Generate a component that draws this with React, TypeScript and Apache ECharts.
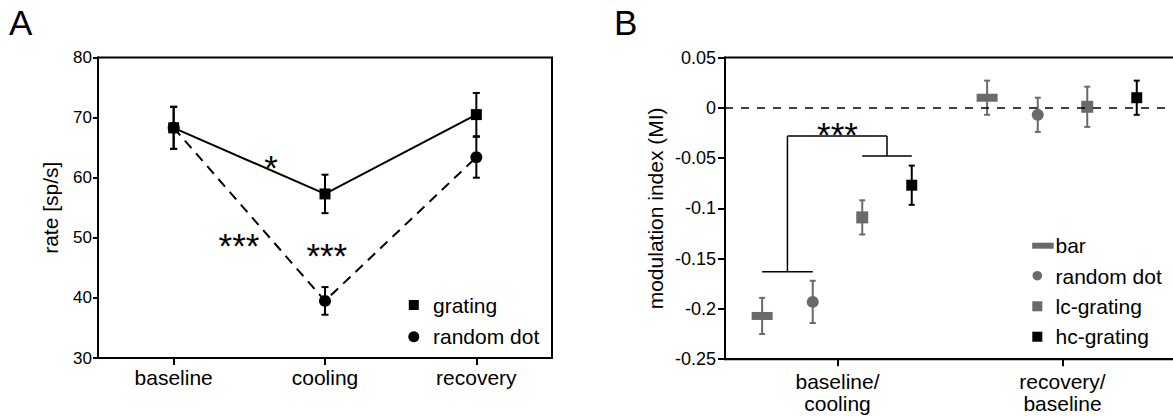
import React, { useEffect, useRef } from "react";
import * as echarts from "echarts";

// ---------- Panel A data ----------
const categoriesA = ["baseline", "cooling", "recovery"];
const gratingMean = [68.3, 57.3, 70.5];
const gratingErr = [3.5, 3.2, 3.6];
const randomDotMean = [68.3, 39.5, 63.4];
const randomDotErr = [3.5, 2.3, 3.4];
const yTicksA = { min: 30, max: 80, interval: 10 };
// significance marks: [x position (category units), y value, text]
const annotX_A = [1.143, 0.932, 1.512];
const annotY_A = [62.8, 49.95, 48.3];
const annotText_A = ["*", "***", "***"];

// ---------- Panel B data ----------
const categoriesB = ["baseline/\ncooling", "recovery/\nbaseline"];
const barMI = [-0.207, 0.01];
const barErr = [0.018, 0.017];
const randomDotMI = [-0.193, -0.007];
const randomDotMIErr = [0.021, 0.017];
const lcGratingMI = [-0.109, 0.001];
const lcGratingErr = [0.017, 0.02];
const hcGratingMI = [-0.077, 0.01];
const hcGratingErr = [0.0195, 0.017];
const yTicksB = { min: -0.25, max: 0.05, interval: 0.05 };
// bracket levels (MI values)
const bracketLowLeft = -0.163;
const bracketTop = -0.028;
const bracketLowRight = -0.048;
const annotY_B = -0.0195;
const annotText_B = "***";

const FONT = "'Liberation Sans', Arial, Helvetica, sans-serif";
const GRAY = "#6a6a6a";
const BLACK = "#000";
// within-group offsets (category units) for the 4 conditions
const OFFS = [-0.335, -0.11, 0.11, 0.33];

function errorBarSeries(name: string, xi: number, yi: number, pts: number[][], color: string, lw: number, cap: number) {
  return {
    type: "custom",
    name,
    xAxisIndex: xi,
    yAxisIndex: yi,
    z: 1,
    silent: true,
    encode: { x: 0, y: 1 },
    data: pts,
    renderItem: (params: any, api: any) => {
      const x = api.value(0);
      const y = api.value(1);
      const e = api.value(2);
      const t = api.coord([x, y + e]);
      const b = api.coord([x, y - e]);
      const st = { stroke: color, lineWidth: lw };
      return {
        type: "group",
        children: [
          { type: "line", shape: { x1: t[0], y1: t[1], x2: b[0], y2: b[1] }, style: st },
          { type: "line", shape: { x1: t[0] - cap, y1: t[1], x2: t[0] + cap, y2: t[1] }, style: st },
          { type: "line", shape: { x1: b[0] - cap, y1: b[1], x2: b[0] + cap, y2: b[1] }, style: st },
        ],
      };
    },
  };
}

function textSeries(xi: number, yi: number, pts: number[][], texts: string[]) {
  return {
    type: "custom",
    xAxisIndex: xi,
    yAxisIndex: yi,
    silent: true,
    z: 5,
    encode: { x: 0, y: 1 },
    data: pts,
    renderItem: (params: any, api: any) => {
      const p = api.coord([api.value(0), api.value(1)]);
      return {
        type: "text",
        x: p[0],
        y: p[1] + 7,
        style: {
          text: texts[params.dataIndex],
          fontSize: 35,
          fontFamily: FONT,
          fill: BLACK,
          align: "center",
          verticalAlign: "middle",
        },
      };
    },
  };
}

export default function App() {
  const ref = useRef<HTMLDivElement>(null);
  useEffect(() => {
    if (!ref.current) return;
    const chart = echarts.init(ref.current, null, { renderer: "svg" });

    const xA = categoriesA.map((_, i) => i + 0.5);
    const xB = categoriesB.map((_, i) => i + 0.5);
    const bx = (g: number, k: number) => xB[g] + OFFS[k];

    const bracketSegs = [
      [bx(0, 0), bracketLowLeft, bx(0, 1), bracketLowLeft],
      [(bx(0, 0) + bx(0, 1)) / 2, bracketLowLeft, (bx(0, 0) + bx(0, 1)) / 2, bracketTop],
      [(bx(0, 0) + bx(0, 1)) / 2, bracketTop, (bx(0, 2) + bx(0, 3)) / 2, bracketTop],
      [(bx(0, 2) + bx(0, 3)) / 2, bracketTop, (bx(0, 2) + bx(0, 3)) / 2, bracketLowRight],
      [bx(0, 2), bracketLowRight, bx(0, 3), bracketLowRight],
    ];

    const axisLineStyle = { onZero: false, lineStyle: { color: BLACK, width: 2 } };
    const labelStyle = (fs: number, margin: number) => ({
      color: BLACK,
      fontSize: fs,
      fontFamily: FONT,
      margin,
    });

    const option: any = {
      animation: false,
      backgroundColor: "#fff",
      textStyle: { fontFamily: FONT },
      grid: [
        { left: 98, top: 57.5, width: 454, height: 300.5, show: true, borderColor: BLACK, borderWidth: 2, backgroundColor: "transparent", containLabel: false, outerBoundsMode: "none" },
        { left: 725, top: 57.5, width: 450, height: 301.7, show: true, borderColor: BLACK, borderWidth: 2, backgroundColor: "transparent", containLabel: false, outerBoundsMode: "none" },
      ],
      xAxis: [
        {
          type: "value", gridIndex: 0, min: 0, max: 3,
          axisLine: axisLineStyle,
          axisTick: { show: true, length: 7, inside: false, lineStyle: { color: BLACK, width: 2 }, customValues: xA },
          axisLabel: { ...labelStyle(21, 9), customValues: xA, formatter: (v: number) => categoriesA[Math.round(v - 0.5)] ?? "" },
          splitLine: { show: false },
        },
        {
          type: "value", gridIndex: 1, min: 0, max: 2,
          axisLine: axisLineStyle,
          axisTick: { show: true, length: 7, inside: false, lineStyle: { color: BLACK, width: 2 }, customValues: xB },
          axisLabel: { ...labelStyle(21, 11), lineHeight: 22, customValues: xB, formatter: (v: number) => categoriesB[Math.round(v - 0.5)] ?? "" },
          splitLine: { show: false },
        },
      ],
      yAxis: [
        {
          type: "value", gridIndex: 0, min: yTicksA.min, max: yTicksA.max, interval: yTicksA.interval,
          name: "rate [sp/s]", nameLocation: "middle", nameGap: 37, nameRotate: 90, nameMoveOverlap: false,
          nameTextStyle: { color: BLACK, fontSize: 21, fontFamily: FONT },
          axisLine: { show: true, ...axisLineStyle },
          axisTick: { show: true, length: 5, lineStyle: { color: BLACK, width: 2 } },
          axisLabel: labelStyle(17, 6),
          splitLine: { show: false },
        },
        {
          type: "value", gridIndex: 1, min: yTicksB.min, max: yTicksB.max, interval: yTicksB.interval,
          name: "modulation index (MI)", nameLocation: "middle", nameGap: 59, nameRotate: 90, nameMoveOverlap: false,
          nameTextStyle: { color: BLACK, fontSize: 21, fontFamily: FONT },
          axisLine: { show: true, ...axisLineStyle },
          axisTick: { show: true, length: 7, lineStyle: { color: BLACK, width: 2 } },
          axisLabel: labelStyle(18, 9),
          splitLine: { show: false },
        },
      ],
      series: [
        // Panel A
        errorBarSeries("grating err", 0, 0, xA.map((x, i) => [x, gratingMean[i], gratingErr[i]]), BLACK, 2, 3.5),
        errorBarSeries("random dot err", 0, 0, xA.map((x, i) => [x, randomDotMean[i], randomDotErr[i]]), BLACK, 2, 3.5),
        {
          type: "line", name: "grating", xAxisIndex: 0, yAxisIndex: 0,
          data: xA.map((x, i) => [x, gratingMean[i]]),
          symbol: "rect", symbolSize: 11, itemStyle: { color: BLACK, opacity: 1 },
          lineStyle: { color: BLACK, width: 2 }, z: 3,
        },
        {
          type: "line", name: "random dot", xAxisIndex: 0, yAxisIndex: 0,
          data: xA.map((x, i) => [x, randomDotMean[i]]),
          symbol: "circle", symbolSize: 12, itemStyle: { color: BLACK, opacity: 1 },
          lineStyle: { color: BLACK, width: 2, type: [10, 7] }, z: 3,
        },
        textSeries(0, 0, annotX_A.map((x, i) => [x, annotY_A[i]]), annotText_A),
        // Panel B
        errorBarSeries("bar err", 1, 1, xB.map((x, i) => [bx(i, 0), barMI[i], barErr[i]]), GRAY, 2, 3),
        errorBarSeries("random dot err B", 1, 1, xB.map((x, i) => [bx(i, 1), randomDotMI[i], randomDotMIErr[i]]), GRAY, 2, 3),
        errorBarSeries("lc err", 1, 1, xB.map((x, i) => [bx(i, 2), lcGratingMI[i], lcGratingErr[i]]), GRAY, 2, 3),
        errorBarSeries("hc err", 1, 1, xB.map((x, i) => [bx(i, 3), hcGratingMI[i], hcGratingErr[i]]), BLACK, 2, 3),
        {
          type: "scatter", name: "bar", xAxisIndex: 1, yAxisIndex: 1,
          data: xB.map((x, i) => [bx(i, 0), barMI[i]]),
          symbol: "rect", symbolSize: [21, 8], itemStyle: { color: GRAY, opacity: 1 }, z: 3,
          markLine: {
            silent: true, symbol: ["none", "none"], label: { show: false },
            lineStyle: { color: BLACK, width: 1.5, type: [8, 8], opacity: 1 },
            data: [{ yAxis: 0 }],
          },
        },
        {
          type: "scatter", name: "random dot B", xAxisIndex: 1, yAxisIndex: 1,
          data: xB.map((x, i) => [bx(i, 1), randomDotMI[i]]),
          symbol: "circle", symbolSize: 12, itemStyle: { color: GRAY, opacity: 1 }, z: 3,
        },
        {
          type: "scatter", name: "lc-grating", xAxisIndex: 1, yAxisIndex: 1,
          data: xB.map((x, i) => [bx(i, 2), lcGratingMI[i]]),
          symbol: "rect", symbolSize: 12, itemStyle: { color: GRAY, opacity: 1 }, z: 3,
        },
        {
          type: "scatter", name: "hc-grating", xAxisIndex: 1, yAxisIndex: 1,
          data: xB.map((x, i) => [bx(i, 3), hcGratingMI[i]]),
          symbol: "rect", symbolSize: 11, itemStyle: { color: BLACK, opacity: 1 }, z: 3,
        },
        {
          type: "custom", name: "bracket", xAxisIndex: 1, yAxisIndex: 1, silent: true,
          encode: { x: [0, 2], y: [1, 3] },
          data: bracketSegs,
          renderItem: (params: any, api: any) => {
            const p1 = api.coord([api.value(0), api.value(1)]);
            const p2 = api.coord([api.value(2), api.value(3)]);
            return { type: "line", shape: { x1: p1[0], y1: p1[1], x2: p2[0], y2: p2[1] }, style: { stroke: BLACK, lineWidth: 1.5 } };
          },
        },
        textSeries(1, 1, [[xB[0], annotY_B]], [annotText_B]),
      ],
      graphic: [
        { type: "text", x: 9, y: 22.5, style: { text: "A", fontSize: 35, fontFamily: FONT, fill: BLACK, verticalAlign: "middle" } },
        { type: "text", x: 614, y: 22.5, style: { text: "B", fontSize: 35, fontFamily: FONT, fill: BLACK, verticalAlign: "middle" } },
        // legend A
        { type: "rect", shape: { x: 408.8, y: 300, width: 10, height: 10 }, style: { fill: BLACK } },
        { type: "circle", shape: { cx: 413.8, cy: 336.7, r: 5.5 }, style: { fill: BLACK } },
        { type: "text", x: 433, y: 305, style: { text: "grating", fontSize: 21, fontFamily: FONT, fill: BLACK, verticalAlign: "middle" } },
        { type: "text", x: 433, y: 336.7, style: { text: "random dot", fontSize: 21, fontFamily: FONT, fill: BLACK, verticalAlign: "middle" } },
        // legend B
        { type: "rect", shape: { x: 1032.2, y: 242.7, width: 21.5, height: 6 }, style: { fill: GRAY } },
        { type: "circle", shape: { cx: 1037.3, cy: 275.7, r: 4.8 }, style: { fill: GRAY } },
        { type: "rect", shape: { x: 1032.3, y: 301.3, width: 10, height: 10 }, style: { fill: GRAY } },
        { type: "rect", shape: { x: 1032.3, y: 331.7, width: 10, height: 10 }, style: { fill: BLACK } },
        { type: "text", x: 1055.5, y: 245.7, style: { text: "bar", fontSize: 21, fontFamily: FONT, fill: BLACK, verticalAlign: "middle" } },
        { type: "text", x: 1055.5, y: 276, style: { text: "random dot", fontSize: 21, fontFamily: FONT, fill: BLACK, verticalAlign: "middle" } },
        { type: "text", x: 1055.5, y: 306.3, style: { text: "lc-grating", fontSize: 21, fontFamily: FONT, fill: BLACK, verticalAlign: "middle" } },
        { type: "text", x: 1055.5, y: 336.7, style: { text: "hc-grating", fontSize: 21, fontFamily: FONT, fill: BLACK, verticalAlign: "middle" } },
      ],
    };

    chart.setOption(option);
    return () => chart.dispose();
  }, []);

  return (
    <div
      ref={ref}
      style={{ position: "fixed", left: 0, top: 0, width: 1173, height: 416, background: "#fff" }}
    />
  );
}
